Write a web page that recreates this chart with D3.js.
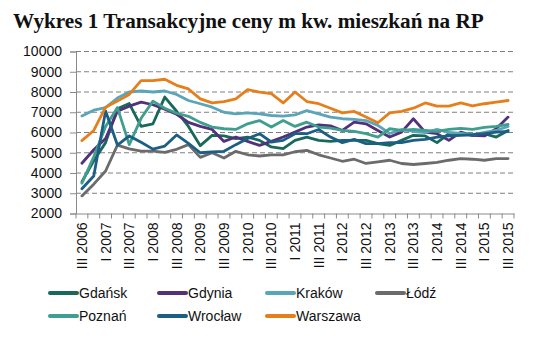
<!DOCTYPE html>
<html><head><meta charset="utf-8">
<script src="https://cdn.jsdelivr.net/npm/d3@7"></script>
<style>
html,body{margin:0;padding:0;background:#fff;}
svg{display:block;}
</style></head>
<body>
<script>
const quarters = [];
(function(){ const r=["I","II","III","IV"]; let q=2, y=2006; for(let i=0;i<37;i++){ quarters.push(r[q]+" "+y); q++; if(q>3){q=0;y++;} } })();
const yTicks = [2000,3000,4000,5000,6000,7000,8000,9000,10000];
const seriesNames = ["Gdańsk","Gdynia","Kraków","Łódź","Poznań","Wrocław","Warszawa"];
const gdansk = [3570,4600,5500,7170,7430,6300,6430,7750,7050,6300,5350,5860,5830,5700,5775,5610,5285,5200,5610,5775,5610,5560,5610,5610,5610,5450,5360,5610,5860,5830,5500,5940,5940,5860,5940,5775,6100];
const gdynia = [4480,5150,5700,7050,7300,7500,7370,7150,6900,6500,6300,6150,5560,5775,5560,5367,5560,5775,6020,6270,6380,6330,6100,6510,6430,6100,5775,6020,6680,6020,5940,5610,6020,5860,5830,6185,6760];
const krakow = [6820,7100,7230,7700,8000,8050,8000,8050,7880,7580,7420,7250,7000,6920,6970,6920,6840,6810,6870,7080,6920,6760,6680,6650,6590,6350,5950,6150,6050,6000,6150,6000,5950,5900,6000,6100,6300];
const lodz = [2870,3450,4100,5380,5190,5080,5080,5020,5170,5400,4770,5000,4740,5070,4900,4840,4900,4900,5050,5120,4900,4740,4580,4680,4470,4550,4630,4470,4420,4470,4520,4630,4710,4680,4630,4710,4710];
const poznan = [3500,4800,6300,7230,5400,6700,7550,7200,6950,6800,6500,6270,6185,6150,6430,6590,6270,6590,6300,6510,6270,6220,6100,6050,5940,5775,6185,6100,6150,6100,6050,6150,6200,6150,6250,6300,6400];
const wroclaw = [3220,3850,7060,5380,5830,5520,5180,5330,5880,5460,5000,5040,5070,5400,5700,5940,5530,5610,5940,5940,6150,5775,5500,5660,5450,5450,5500,5500,5610,5660,5775,5830,5860,5890,5940,6020,6050];
const warszawa = [5600,6100,7250,7550,7880,8560,8560,8630,8330,8150,7660,7460,7530,7660,8120,7990,7920,7460,8000,7530,7420,7200,6970,7040,6760,6480,6970,7040,7200,7460,7300,7300,7460,7320,7420,7500,7580];
const seriesValues = [gdansk,gdynia,krakow,lodz,poznan,wroclaw,warszawa];
const colors = ["#18695b","#53307a","#5aa5b8","#6b6b6b","#3f9e8f","#1d5e85","#e47f1c"];

const W=553,H=339;
const svg=d3.select("body").append("svg").attr("width",W).attr("height",H);
svg.append("text").attr("x",13).attr("y",28).attr("font-family","'Liberation Serif','DejaVu Serif',serif")
  .attr("font-weight","bold").attr("font-size",21.2).attr("fill","#111").text("Wykres 1 Transakcyjne ceny m kw. mieszkań na RP");

const x=d3.scaleBand().domain(quarters).range([76,514]).paddingInner(0).paddingOuter(0);
const y=d3.scaleLinear().domain([2000,10000]).range([213.5,51.5]);
const cx = d => x(d)+x.bandwidth()/2;

// gridlines
svg.append("g").selectAll("line").data(yTicks.filter(t=>t>2000)).join("line")
  .attr("x1",76).attr("x2",514).attr("y1",d=>y(d)).attr("y2",d=>y(d))
  .attr("stroke","#808080").attr("stroke-width",1).attr("stroke-dasharray","5,3");

// y axis
const ya=svg.append("g").attr("transform","translate(76,0)")
  .call(d3.axisLeft(y).tickValues(yTicks).tickSize(6).tickPadding(8).tickFormat(d3.format("d")));
ya.select(".domain").attr("stroke","#8a8a8a");
ya.selectAll(".tick line").attr("stroke","#8a8a8a");
ya.selectAll("text").attr("font-family","Arial,'Liberation Sans',sans-serif").attr("font-size",14).attr("fill","#111");

// x axis
const xa=svg.append("g").attr("transform","translate(0,213.5)")
  .call(d3.axisBottom(x).tickValues([]).tickSizeOuter(0));
xa.select(".domain").attr("stroke","#8a8a8a");
const bounds = quarters.map(q=>x(q)).concat([x.range()[1]]);
xa.selectAll("line.tk").data(bounds).join("line").attr("class","tk")
  .attr("x1",d=>d).attr("x2",d=>d).attr("y1",0).attr("y2",5).attr("stroke","#8a8a8a");
const labelQ = quarters.filter(q=>q.startsWith("I ")||q.startsWith("III "));
xa.selectAll("text.lb").data(labelQ).join("text").attr("class","lb")
  .attr("transform",d=>`translate(${cx(d)+5},9) rotate(-90)`)
  .attr("text-anchor","end").attr("font-family","Arial,'Liberation Sans',sans-serif")
  .attr("font-size",14).attr("fill","#111").text(d=>d);

// lines
const line=d3.line().x((d,i)=>cx(quarters[i])).y(d=>y(d));
svg.append("g").selectAll("path").data(seriesValues).join("path")
  .attr("d",d=>line(d)).attr("fill","none").attr("stroke",(d,i)=>colors[i])
  .attr("stroke-width",2.8).attr("stroke-linejoin","round").attr("stroke-linecap","round");

// legend
const legX=[49,158,266,376], legY=[293,316];
const lg=svg.append("g").selectAll("g").data(seriesNames).join("g")
  .attr("transform",(d,i)=>`translate(${legX[i%4]},${legY[Math.floor(i/4)]})`);
lg.append("line").attr("x1",1).attr("x2",28).attr("y1",0).attr("y2",0)
  .attr("stroke",(d,i)=>colors[i]).attr("stroke-width",4).attr("stroke-linecap","round");
lg.append("text").attr("x",30).attr("y",5).attr("font-family","Arial,'Liberation Sans',sans-serif")
  .attr("font-size",14).attr("fill","#111").text(d=>d);
</script>
</body></html>
